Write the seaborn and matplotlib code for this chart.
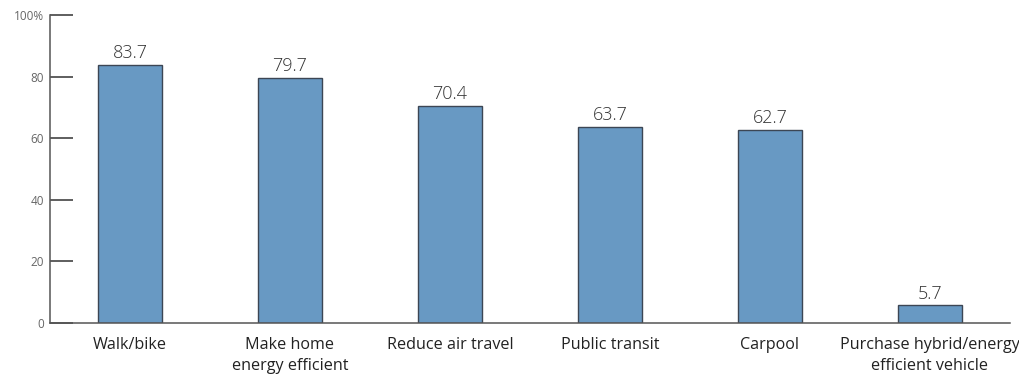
import matplotlib
matplotlib.use("Agg")
import matplotlib.pyplot as plt
import seaborn as sns
import pandas as pd

categories = ["Walk/bike", "Make home\nenergy efficient", "Reduce air travel",
              "Public transit", "Carpool", "Purchase hybrid/energy\nefficient vehicle"]
values = [83.7, 79.7, 70.4, 63.7, 62.7, 5.7]
ytick_values = [0, 20, 40, 60, 80, 100]
ytick_labels = ["0", "20", "40", "60", "80", "100%"]

sns.set_theme(style="white")
plt.rcParams["font.family"] = ["Open Sans", "DejaVu Sans"]

df = pd.DataFrame({"category": categories, "value": values})

fig = plt.figure(figsize=(10.2, 3.79), dpi=100)
ax = fig.add_axes([50 / 1020, 56 / 379, 960 / 1020, 308 / 379])

sns.barplot(data=df, x="category", y="value", ax=ax, color="#6899c3",
            width=0.405, edgecolor="#3c4654", linewidth=1.0, saturation=1)

ax.set_xlim(-0.5, 5.5)
ax.set_ylim(0, 100)
ax.set_yticks(ytick_values)
ax.set_yticklabels(ytick_labels)
ax.set_xlabel("")
ax.set_ylabel("")

for side in ("top", "right"):
    ax.spines[side].set_visible(False)
for side in ("left", "bottom"):
    ax.spines[side].set_color("#555555")
    ax.spines[side].set_linewidth(1.1)

ax.tick_params(axis="y", direction="in", length=16.5, width=1.1, color="#333333",
               pad=4.5, labelsize=8.5, labelcolor="#666666", left=True)
ax.tick_params(axis="x", length=0, pad=10, labelsize=11.6, labelcolor="#222222")
for lbl in ax.get_xticklabels():
    lbl.set_linespacing(1.4)
ax.grid(False)

for container in ax.containers:
    ax.bar_label(container, fmt="%.1f", padding=2, fontsize=13, color="#333333",
                 fontweight="light")

fig.savefig("out.png", dpi=100)
